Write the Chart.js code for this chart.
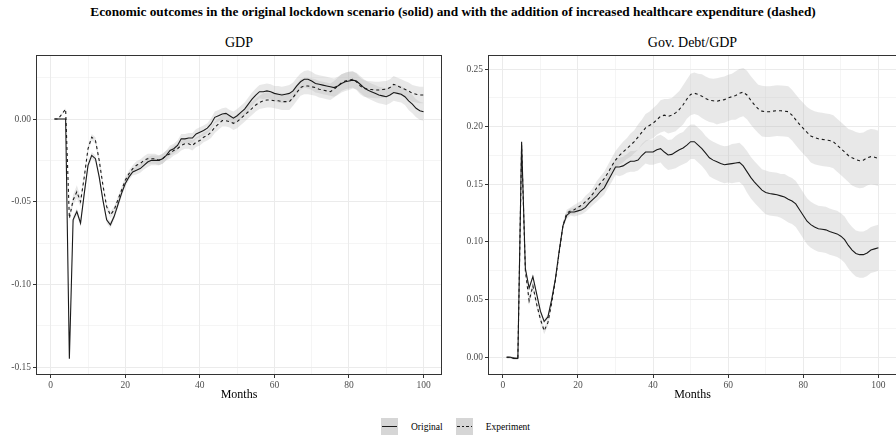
<!DOCTYPE html>
<html>
<head>
<meta charset="utf-8">
<script src="https://cdn.jsdelivr.net/npm/chart.js@4.4.1/dist/chart.umd.min.js"></script>
<style>
  html, body { margin: 0; padding: 0; background: #fff; overflow: hidden; }
  body { width: 896px; height: 436px; position: relative; font-family: "Liberation Serif", "Times New Roman", serif; color: #000; }
  #title { position: absolute; top: 5px; left: 5px; width: 896px; text-align: center; font-weight: bold; font-size: 13.3px; line-height: 1; white-space: nowrap; }
  .ptitle { position: absolute; top: 36px; font-size: 14px; line-height: 1; text-align: center; }
  .panel { position: absolute; top: 40px; height: 365px; }
  #legend { position: absolute; top: 418px; left: 381px; height: 17px; display: flex; align-items: center; font-size: 9.5px; }
  .key { width: 17px; height: 17px; background: #d6d6d6; position: relative; }
  .key i { position: absolute; left: 1px; right: 1px; top: 8px; height: 1.2px; background: #1a1a1a; }
  .key i.dash { background: repeating-linear-gradient(90deg, #1a1a1a 0 2.6px, transparent 2.6px 4.6px); }
  .lab { margin: 0 13px 0 13px; }
</style>
</head>
<body>
<div id="title">Economic outcomes in the original lockdown scenario (solid) and with the addition of increased healthcare expenditure (dashed)</div>
<div class="ptitle" style="left:36px;width:406px">GDP</div>
<div class="ptitle" style="left:488px;width:409px">Gov. Debt/GDP</div>
<canvas id="gdp" class="panel" width="452" height="365" style="left:0;width:452px"></canvas>
<canvas id="debt" class="panel" width="446" height="365" style="left:452px;width:446px"></canvas>
<div id="legend">
  <div class="key"><i></i></div><span class="lab">Original</span>
  <div class="key"><i class="dash"></i></div><span class="lab" style="margin-right:0">Experiment</span>
</div>
<script>
const months = Array.from({ length: 100 }, (_, i) => i + 1);
const monthTicks = [0, 10, 20, 30, 40, 50, 60, 70, 80, 90, 100];
const gdpTicks = [-0.15, -0.125, -0.10, -0.075, -0.05, -0.025, 0.00, 0.025];
const debtTicks = [0.00, 0.025, 0.05, 0.075, 0.10, 0.125, 0.15, 0.175, 0.20, 0.225, 0.25];

// GDP deviation, original lockdown scenario
const gdpOriginal = [
  0.000, 0.000, 0.000, 0.000, -0.145, -0.061, -0.056, -0.063, -0.045, -0.028,
  -0.022, -0.024, -0.035, -0.049, -0.061, -0.064, -0.059, -0.052, -0.045, -0.039,
  -0.035, -0.032, -0.031, -0.030, -0.028, -0.026, -0.025, -0.025, -0.025, -0.024,
  -0.022, -0.019, -0.018, -0.016, -0.012, -0.012, -0.0115, -0.0115, -0.009, -0.008,
  -0.007, -0.0055, -0.003, 0.001, 0.002, 0.003, 0.0034, 0.002, 0.0005, 0.002,
  0.004, 0.006, 0.009, 0.012, 0.0145, 0.0165, 0.0165, 0.017, 0.0165, 0.0155,
  0.015, 0.0145, 0.015, 0.0155, 0.017, 0.020, 0.0225, 0.024, 0.024, 0.023,
  0.0215, 0.021, 0.0205, 0.020, 0.0195, 0.019, 0.020, 0.0215, 0.0225, 0.023,
  0.0235, 0.023, 0.021, 0.019, 0.0175, 0.0165, 0.0155, 0.0145, 0.014, 0.0135,
  0.0145, 0.016, 0.0155, 0.015, 0.0135, 0.011, 0.009, 0.0065, 0.005, 0.0044
];
// GDP deviation with extra healthcare spending
const gdpExperiment = [
  0.000, 0.000, 0.003, 0.006, -0.060, -0.049, -0.044, -0.050, -0.035, -0.018,
  -0.011, -0.013, -0.025, -0.040, -0.053, -0.058, -0.055, -0.049, -0.043, -0.037,
  -0.033, -0.030, -0.028, -0.027, -0.025, -0.024, -0.024, -0.024, -0.025, -0.024,
  -0.022, -0.021, -0.019, -0.018, -0.016, -0.015, -0.015, -0.016, -0.014, -0.013,
  -0.011, -0.010, -0.008, -0.005, -0.003, -0.001, -0.001, -0.0016, -0.0026, -0.0016,
  0.0004, 0.0024, 0.0044, 0.0064, 0.0085, 0.010, 0.011, 0.0115, 0.0115, 0.011,
  0.011, 0.0105, 0.0105, 0.0105, 0.013, 0.016, 0.019, 0.020, 0.020, 0.0195,
  0.019, 0.018, 0.0175, 0.017, 0.0165, 0.018, 0.020, 0.022, 0.023, 0.0235,
  0.024, 0.0225, 0.020, 0.0185, 0.018, 0.0178, 0.0175, 0.0175, 0.0178, 0.018,
  0.019, 0.021, 0.020, 0.019, 0.018, 0.017, 0.0155, 0.015, 0.0145, 0.0145
];
// half-widths of the shaded intervals
const gdpOriginalBand = [
  0.0005, 0.0005, 0.0005, 0.0005, 0.001, 0.002, 0.002, 0.002, 0.002, 0.002,
  0.002, 0.002, 0.002, 0.002, 0.002, 0.002, 0.002, 0.002, 0.002, 0.002,
  0.002, 0.002, 0.0025, 0.0025, 0.0025, 0.003, 0.003, 0.003, 0.003, 0.003,
  0.003, 0.003, 0.003, 0.003, 0.003, 0.003, 0.003, 0.003, 0.003, 0.003,
  0.003, 0.003, 0.0035, 0.0035, 0.0035, 0.0035, 0.0035, 0.0035, 0.004, 0.004,
  0.004, 0.004, 0.004, 0.004, 0.004, 0.004, 0.0045, 0.0045, 0.0045, 0.0045,
  0.005, 0.005, 0.005, 0.005, 0.005, 0.005, 0.005, 0.005, 0.0055, 0.0055,
  0.0055, 0.0055, 0.0055, 0.0055, 0.0055, 0.0055, 0.0055, 0.0055, 0.0055, 0.0055,
  0.005, 0.005, 0.005, 0.005, 0.005, 0.005, 0.005, 0.005, 0.005, 0.005,
  0.005, 0.005, 0.005, 0.005, 0.005, 0.0055, 0.0055, 0.0055, 0.0055, 0.0055
];
const gdpExperimentBand = [
  0.0005, 0.0005, 0.0005, 0.0005, 0.002, 0.003, 0.004, 0.003, 0.002, 0.002,
  0.002, 0.002, 0.002, 0.002, 0.002, 0.002, 0.002, 0.002, 0.002, 0.002,
  0.002, 0.002, 0.0025, 0.0025, 0.0025, 0.003, 0.003, 0.003, 0.003, 0.003,
  0.003, 0.003, 0.003, 0.003, 0.003, 0.003, 0.003, 0.003, 0.003, 0.003,
  0.003, 0.003, 0.0035, 0.0035, 0.0035, 0.0035, 0.0035, 0.0035, 0.004, 0.004,
  0.004, 0.004, 0.004, 0.004, 0.004, 0.004, 0.0045, 0.0045, 0.0045, 0.0045,
  0.005, 0.005, 0.005, 0.005, 0.005, 0.005, 0.005, 0.005, 0.005, 0.005,
  0.005, 0.005, 0.005, 0.005, 0.005, 0.005, 0.005, 0.005, 0.005, 0.005,
  0.005, 0.005, 0.005, 0.005, 0.005, 0.005, 0.005, 0.005, 0.005, 0.005,
  0.005, 0.005, 0.005, 0.005, 0.005, 0.005, 0.005, 0.005, 0.005, 0.005
];

// Government debt to GDP
const debtOriginal = [
  0.000, 0.000, -0.001, -0.001, 0.187, 0.077, 0.060, 0.070, 0.055, 0.040,
  0.031, 0.035, 0.050, 0.068, 0.092, 0.114, 0.123, 0.126, 0.126, 0.127,
  0.128, 0.130, 0.134, 0.137, 0.140, 0.144, 0.147, 0.153, 0.159, 0.165,
  0.165, 0.166, 0.168, 0.170, 0.170, 0.171, 0.175, 0.178, 0.178, 0.178,
  0.180, 0.181, 0.178, 0.1755, 0.176, 0.178, 0.180, 0.1815, 0.184, 0.187,
  0.187, 0.184, 0.181, 0.177, 0.173, 0.171, 0.1695, 0.168, 0.167, 0.1675,
  0.168, 0.1685, 0.169, 0.166, 0.161, 0.156, 0.152, 0.1485, 0.145, 0.143,
  0.142, 0.1415, 0.141, 0.140, 0.139, 0.137, 0.1355, 0.133, 0.128, 0.123,
  0.118, 0.115, 0.113, 0.1115, 0.111, 0.1105, 0.109, 0.108, 0.107, 0.105,
  0.102, 0.097, 0.093, 0.090, 0.089, 0.089, 0.0905, 0.093, 0.094, 0.095
];
const debtExperiment = [
  0.000, 0.000, -0.001, -0.001, 0.184, 0.075, 0.049, 0.062, 0.046, 0.033,
  0.023, 0.030, 0.047, 0.067, 0.091, 0.114, 0.125, 0.127, 0.128, 0.130,
  0.132, 0.135, 0.138, 0.142, 0.147, 0.151, 0.155, 0.160, 0.166, 0.171,
  0.175, 0.178, 0.181, 0.184, 0.187, 0.191, 0.195, 0.199, 0.201, 0.203,
  0.206, 0.209, 0.210, 0.209, 0.210, 0.212, 0.215, 0.219, 0.224, 0.228,
  0.229, 0.228, 0.2265, 0.2245, 0.223, 0.2225, 0.222, 0.223, 0.2235, 0.225,
  0.226, 0.227, 0.229, 0.230, 0.2275, 0.223, 0.219, 0.2155, 0.2135, 0.213,
  0.213, 0.2135, 0.214, 0.2138, 0.2135, 0.213, 0.210, 0.206, 0.202, 0.1985,
  0.195, 0.192, 0.1905, 0.1895, 0.189, 0.1885, 0.188, 0.187, 0.184, 0.181,
  0.178, 0.175, 0.173, 0.1715, 0.1705, 0.171, 0.173, 0.174, 0.1735, 0.1725
];
const debtOriginalBand = [
  0.001, 0.001, 0.001, 0.001, 0.002, 0.002, 0.002, 0.002, 0.002, 0.002,
  0.002, 0.002, 0.002, 0.002, 0.002, 0.002, 0.003, 0.003, 0.004, 0.004,
  0.004, 0.004, 0.005, 0.005, 0.005, 0.006, 0.006, 0.006, 0.007, 0.007,
  0.008, 0.008, 0.008, 0.009, 0.009, 0.009, 0.010, 0.010, 0.011, 0.011,
  0.012, 0.012, 0.013, 0.013, 0.013, 0.014, 0.014, 0.014, 0.015, 0.015,
  0.015, 0.015, 0.015, 0.015, 0.016, 0.016, 0.016, 0.016, 0.016, 0.016,
  0.017, 0.017, 0.017, 0.017, 0.018, 0.018, 0.018, 0.018, 0.018, 0.019,
  0.019, 0.019, 0.019, 0.019, 0.020, 0.020, 0.020, 0.020, 0.020, 0.020,
  0.020, 0.020, 0.020, 0.020, 0.020, 0.020, 0.020, 0.020, 0.020, 0.020,
  0.020, 0.020, 0.020, 0.020, 0.020, 0.020, 0.020, 0.020, 0.020, 0.020
];
const debtExperimentBand = [
  0.001, 0.001, 0.001, 0.001, 0.002, 0.003, 0.004, 0.004, 0.003, 0.003,
  0.003, 0.003, 0.003, 0.003, 0.003, 0.003, 0.003, 0.003, 0.004, 0.004,
  0.004, 0.005, 0.005, 0.005, 0.006, 0.006, 0.006, 0.007, 0.007, 0.008,
  0.008, 0.009, 0.009, 0.010, 0.010, 0.011, 0.011, 0.012, 0.012, 0.013,
  0.013, 0.014, 0.014, 0.015, 0.015, 0.016, 0.016, 0.017, 0.017, 0.018,
  0.018, 0.018, 0.019, 0.019, 0.019, 0.019, 0.020, 0.020, 0.020, 0.020,
  0.020, 0.021, 0.021, 0.021, 0.021, 0.021, 0.021, 0.021, 0.022, 0.022,
  0.022, 0.022, 0.022, 0.022, 0.022, 0.022, 0.022, 0.022, 0.022, 0.022,
  0.022, 0.023, 0.023, 0.023, 0.023, 0.023, 0.023, 0.023, 0.023, 0.023,
  0.023, 0.023, 0.024, 0.024, 0.024, 0.024, 0.024, 0.024, 0.024, 0.024
];

const FONT = "'Liberation Serif', 'Times New Roman', serif";
const RIBBON = 'rgba(179, 179, 179, 0.3)';
const LINE = '#1a1a1a';

// points for a line (no band) or for one edge of its shaded interval
const pts = (ys, band, sign) => months.map((m, i) => ({
  x: m,
  y: band ? ys[i] + sign * band[i] : ys[i],
}));

// ggplot-like frame around the panel
const panelFrame = {
  id: 'panelFrame',
  afterDraw(chart) {
    const { ctx, chartArea: a } = chart;
    ctx.save();
    ctx.strokeStyle = '#333333';
    ctx.lineWidth = 1;
    ctx.strokeRect(Math.round(a.left) + 0.5, Math.round(a.top) + 0.5,
      Math.round(a.right - a.left) - 1, Math.round(a.bottom - a.top) - 1);
    ctx.restore();
  }
};

const major = (c) => c.index % 2 === 0;
const gridOpts = {
  color: '#ebebeb',
  lineWidth: (c) => (major(c) ? 1 : 0.5),
  tickColor: (c) => (major(c) ? '#333333' : 'rgba(0,0,0,0)'),
  tickLength: 3,
  tickWidth: 1,
};

function makePanel(id, orig, origBand, exp, expBand, yMin, yMax, yTicks, padRight) {
  return new Chart(document.getElementById(id), {
    type: 'line',
    data: {
      datasets: [
        { data: pts(orig), borderColor: LINE, borderWidth: 1.1, fill: false },
        { data: pts(exp), borderColor: LINE, borderWidth: 1.1, borderDash: [3, 3], fill: false },
        { data: pts(orig, origBand, 1), borderWidth: 0, backgroundColor: RIBBON, fill: '+1' },
        { data: pts(orig, origBand, -1), borderWidth: 0, fill: false },
        { data: pts(exp, expBand, 1), borderWidth: 0, backgroundColor: RIBBON, fill: '+1' },
        { data: pts(exp, expBand, -1), borderWidth: 0, fill: false },
      ],
    },
    options: {
      responsive: false,
      animation: false,
      events: [],
      layout: { padding: { top: 15, right: padRight, left: 0, bottom: 0 } },
      elements: { point: { radius: 0 }, line: { tension: 0 } },
      plugins: { legend: { display: false }, tooltip: { enabled: false } },
      scales: {
        x: {
          type: 'linear',
          min: -3.95,
          max: 104.95,
          afterBuildTicks: (s) => { s.ticks = monthTicks.map((v) => ({ value: v })); },
          afterFit: (s) => { s.height = 30; },
          border: { display: false },
          grid: gridOpts,
          ticks: {
            autoSkip: false, maxRotation: 0, padding: 2, color: '#4d4d4d',
            font: { family: FONT, size: 9.5 },
            callback: (v, i) => (i % 2 === 0 ? String(v) : ''),
          },
          title: {
            display: true, text: 'Months', color: '#000',
            font: { family: FONT, size: 12 }, padding: { top: 0, bottom: 3 },
          },
        },
        y: {
          type: 'linear',
          min: yMin,
          max: yMax,
          afterBuildTicks: (s) => { s.ticks = yTicks.map((v) => ({ value: v })); },
          afterFit: (s) => { s.width = 36; },
          border: { display: false },
          grid: gridOpts,
          ticks: {
            autoSkip: false, padding: 2, color: '#4d4d4d',
            font: { family: FONT, size: 9.5 },
            callback: (v, i) => (i % 2 === 0 ? v.toFixed(2) : ''),
          },
        },
      },
    },
    plugins: [panelFrame],
  });
}

makePanel('gdp', gdpOriginal, gdpOriginalBand, gdpExperiment, gdpExperimentBand, -0.1548, 0.0387, gdpTicks, 10);
makePanel('debt', debtOriginal, debtOriginalBand, debtExperiment, debtExperimentBand, -0.0154, 0.2622, debtTicks, 1);
</script>
</body>
</html>
